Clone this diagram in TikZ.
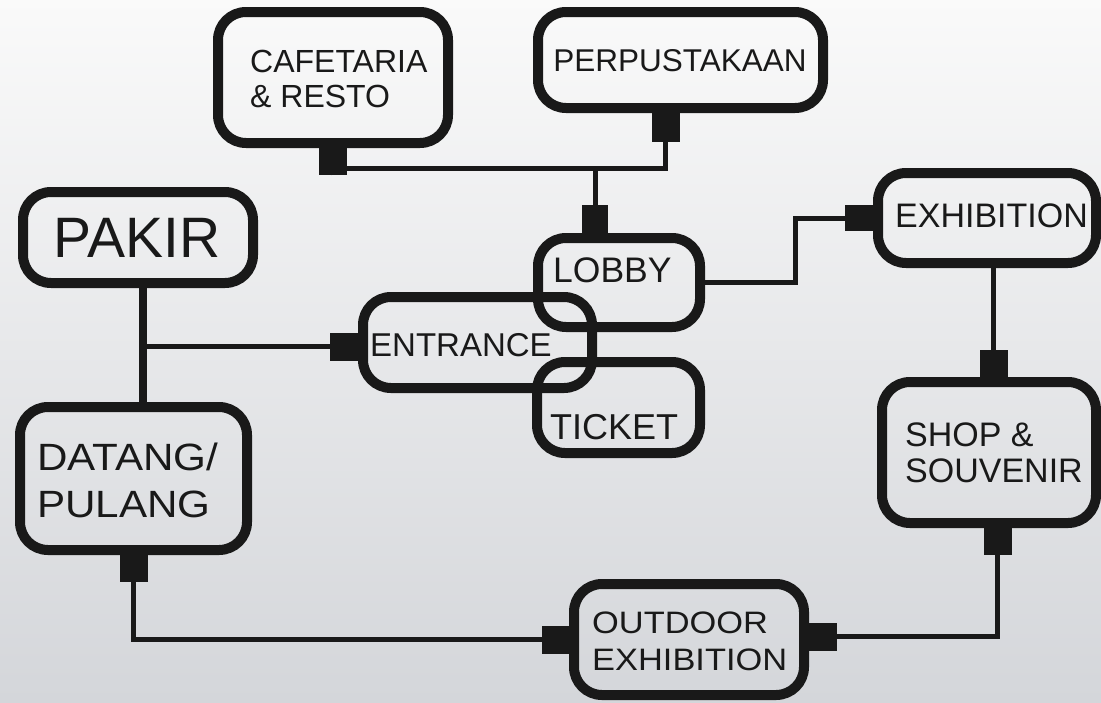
\documentclass[tikz,border=0pt]{standalone}
\usepackage{fontspec}
\setmainfont{Liberation Sans}
\newfontfamily\widefont[FakeStretch=1.11]{Liberation Sans}
\usetikzlibrary{calc}
\tikzset{
  room/.style={draw=black!90, line width=10pt, rounded corners=28pt, inner sep=0pt},
  roomtext/.style={text=black!90, inner sep=0pt, align=left, anchor=west},
  stub/.style={fill=black!90, inner sep=0pt, minimum width=28pt, minimum height=27pt},
  link/.style={draw=black!90, line width=5pt},
  trunk/.style={draw=black!90, line width=8pt}
}
\newcommand{\roomfont}[2]{\fontsize{#1}{#2}\selectfont}

\begin{document}
\begin{tikzpicture}[x=1pt, y=-1pt]
\useasboundingbox (0,0) rectangle (1101,702);
% background
\shade[top color=white!96!gray, bottom color={rgb,255:red,212;green,214;blue,218}]
  (0,0) rectangle (1101,702);

% rooms
\node[room, minimum width=230pt, minimum height=131pt] (caf) at (333,77.5) {};
\node[room, minimum width=285pt, minimum height=96pt] (perp) at (680.5,60) {};
\node[room, minimum width=230pt, minimum height=91pt] (pakir) at (138,237.5) {};
\node[room, minimum width=162pt, minimum height=89pt] (lobby) at (619,282.5) {};
\node[room, minimum width=229pt, minimum height=91pt] (entr) at (477.5,342.5) {};
\node[room, minimum width=163pt, minimum height=91pt] (ticket) at (618.5,407.5) {};
\node[room, minimum width=227pt, minimum height=143pt] (datang) at (133.5,478.5) {};
\node[room, minimum width=218pt, minimum height=90pt] (exhib) at (987,218) {};
\node[room, minimum width=214pt, minimum height=141pt] (shop) at (989,452.5) {};
\node[room, minimum width=230pt, minimum height=111pt] (outd) at (689,639.5) {};

% texts
\node[roomtext, font=\roomfont{32}{35}] (cafT) at (250,79) {CAFETARIA\\\& RESTO};
\node[roomtext, font=\roomfont{31.5}{35}, anchor=center] (perpT) at (680,61) {PERPUSTAKAAN};
\node[roomtext, font=\roomfont{57}{60}, anchor=center] (pakirT) at (137,238) {PAKIR};
\node[roomtext, font=\roomfont{35.5}{38}] (lobbyT) at (553,270) {LOBBY};
\node[roomtext, font=\roomfont{33}{36}] (entrT) at (370,345) {ENTRANCE};
\node[roomtext, font=\roomfont{36}{38}] (ticketT) at (550,427) {TICKET};
\node[roomtext, font=\widefont\roomfont{38}{47}] (datangT) at (37,480) {DATANG/\\PULANG};
\node[roomtext, font=\roomfont{34}{36}] (exhibT) at (895,216) {EXHIBITION};
\node[roomtext, font=\roomfont{34}{36}] (shopT) at (905,453) {SHOP \&\\SOUVENIR};
\node[roomtext, font=\widefont\roomfont{31}{37}] (outdT) at (592,641) {OUTDOOR\\EXHIBITION};

% plugs on the room borders
\node[stub, anchor=north] (cafS) at (caf.south) {};
\node[stub, anchor=north, minimum height=29pt] (perpS) at ($(perp.south)+(-15,0)$) {};
\node[stub, anchor=south, minimum width=26pt, minimum height=28pt] (lobS) at ($(lobby.north)+(-24,0)$) {};
\node[stub, anchor=east, minimum height=26pt] (exS) at (exhib.west) {};
\node[stub, anchor=east, minimum height=28pt] (entS) at ($(entr.west)+(0,4)$) {};
\node[stub, anchor=north] (datS) at (datang.south) {};
\node[stub, anchor=east, minimum width=27pt, minimum height=28pt] (outW) at (outd.west) {};
\node[stub, anchor=west, minimum height=28pt] (outE) at ($(outd.east)+(0,-3)$) {};
\node[stub, anchor=south] (shopN) at ($(shop.north)+(4.5,0)$) {};
\node[stub, anchor=north] (shopS) at ($(shop.south)+(8.5,0)$) {};

% connectors
\coordinate (hub) at ($(lobS.north)+(0,-36)$);
\draw[link] (cafS.south) |- (hub) -| (perpS.south);
\draw[link] (hub) -- (lobS.north);
\draw[link] (lobby.east) -- ++(90,0) |- (exS.west);
\draw[link] (exhib.south -| shopN.north) -- (shopN.north);
\coordinate (pk) at ($(pakir.south)+(5,0)$);
\draw[trunk] (pk) -- (pk |- datang.north);
\draw[link] (entS.west) -- (entS.west -| pk);
\draw[link] (datS.south) |- (outW.west);
\draw[link] (outE.east) -| (shopS.south);
\end{tikzpicture}
\end{document}
